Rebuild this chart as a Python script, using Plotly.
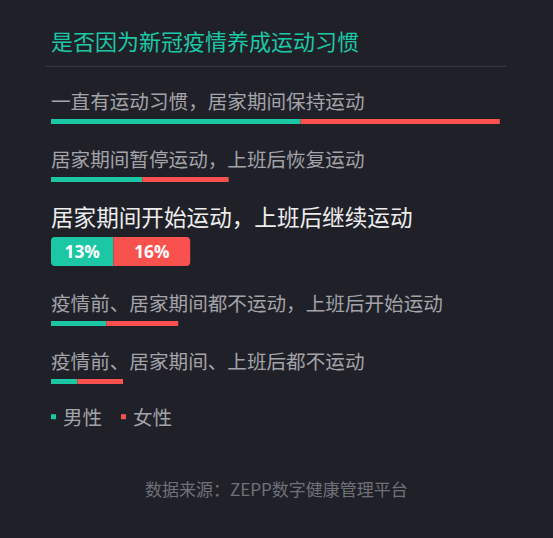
import plotly.graph_objects as go

# Data
categories = ['一直有运动习惯，居家期间保持运动',
              '居家期间暂停运动，上班后恢复运动',
              '居家期间开始运动，上班后继续运动',
              '疫情前、居家期间都不运动，上班后开始运动',
              '疫情前、居家期间、上班后都不运动']
male = [52, 19, 13, 11.5, 5.5]
female = [41.5, 18, 16, 15, 9.5]
highlight = 2
series_names = ['男性', '女性']

title = '是否因为新冠疫情养成运动习惯'
source = '数据来源：ZEPP数字健康管理平台'

# Style
W, H = 553, 538
bg = '#202128'
teal = '#1cc7a6'
red = '#f9524e'
label_grey = '#a3a3a9'
font = 'Noto Sans CJK SC, sans-serif'
px_per_pct = 4.8
left_px = 51
first_row_px = 121.5
x_lo = -left_px / px_per_pct
x_hi = (W - left_px) / px_per_pct

# row positions (pixel offsets from the first bar), highlighted row gets more room
ypos = [0]
for i in range(1, len(categories)):
    gap = 58
    if i == highlight or i - 1 == highlight:
        gap += 14
    ypos.append(ypos[-1] + gap)

normal = [i for i in range(len(categories)) if i != highlight]

fig = go.Figure()

# thin bars, stacked
fig.add_trace(go.Bar(
    y=[ypos[i] for i in normal], x=[male[i] for i in normal],
    orientation='h', width=5, marker=dict(color=teal, line_width=0),
    name=series_names[0], hoverinfo='skip'))
fig.add_trace(go.Bar(
    y=[ypos[i] for i in normal], x=[female[i] for i in normal],
    orientation='h', width=5, marker=dict(color=red, line_width=0),
    name=series_names[1], hoverinfo='skip'))

# highlighted row on its own axis, zero placed at the male/female split,
# so both outer ends of the pill get rounded
hi_text_font = dict(family='Open Sans, sans-serif', size=18, color='white')
fig.add_trace(go.Bar(
    y=[ypos[highlight]], x=[-male[highlight]], xaxis='x2',
    orientation='h', width=29, marker=dict(color=teal, cornerradius=4, line_width=0),
    text=[f'<b>{male[highlight]:g}%</b>'], textposition='inside', insidetextanchor='middle',
    textangle=0, textfont=hi_text_font, hoverinfo='skip'))
fig.add_trace(go.Bar(
    y=[ypos[highlight]], x=[female[highlight]], xaxis='x2',
    orientation='h', width=29, marker=dict(color=red, cornerradius=4, line_width=0),
    text=[f'<b>{female[highlight]:g}%</b>'], textposition='inside', insidetextanchor='middle',
    textangle=0, textfont=hi_text_font, hoverinfo='skip'))

annotations = []
label_x = -2 / px_per_pct
for i, cat in enumerate(categories):
    hi = i == highlight
    annotations.append(dict(
        x=label_x, y=ypos[i] - (35 if hi else 21.5), xref='x', yref='y',
        text=cat, showarrow=False, xanchor='left', yanchor='middle',
        font=dict(family=font, size=22.6 if hi else 19.6, color='#eeeeee' if hi else label_grey)))

# legend
legend_y = 1 - 416.7 / H
shapes = []
for name, col, sx, tx in [(series_names[0], teal, 51, 61), (series_names[1], red, 121, 131)]:
    shapes.append(dict(type='rect', xref='paper', yref='paper',
                       x0=sx / W, x1=(sx + 5) / W, y0=legend_y - 2.5 / H, y1=legend_y + 2.5 / H,
                       fillcolor=col, line_width=0))
    annotations.append(dict(x=tx / W, y=legend_y, xref='paper', yref='paper', text=name,
                            showarrow=False, xanchor='left', yanchor='middle',
                            font=dict(family=font, size=19.6, color=label_grey)))

# title rule
shapes.append(dict(type='line', xref='paper', yref='paper', x0=45 / W, x1=506 / W,
                   y0=1 - 66.3 / H, y1=1 - 66.3 / H, line=dict(color='#3b3d45', width=1)))

annotations.append(dict(x=276 / W, y=1 - 488 / H, xref='paper', yref='paper', text=source,
                        showarrow=False, xanchor='center', yanchor='middle',
                        font=dict(family=font, size=17, color='#707078')))

fig.update_layout(
    width=W, height=H,
    margin=dict(l=0, r=0, t=0, b=0),
    paper_bgcolor=bg, plot_bgcolor=bg,
    barmode='relative',
    title=dict(text=title, x=left_px / W, xanchor='left', y=1 - 42 / H, yanchor='middle',
               font=dict(family=font, size=22, color=teal)),
    xaxis=dict(range=[x_lo, x_hi], visible=False, fixedrange=True),
    xaxis2=dict(overlaying='x', range=[x_lo - male[highlight], x_hi - male[highlight]],
                visible=False, fixedrange=True),
    yaxis=dict(range=[H - first_row_px, -first_row_px], visible=False, fixedrange=True),
    annotations=annotations,
    shapes=shapes,
    showlegend=False,
)

fig.write_html('out.html', config={'displayModeBar': False},
               post_script="document.body.style.margin='0';")
